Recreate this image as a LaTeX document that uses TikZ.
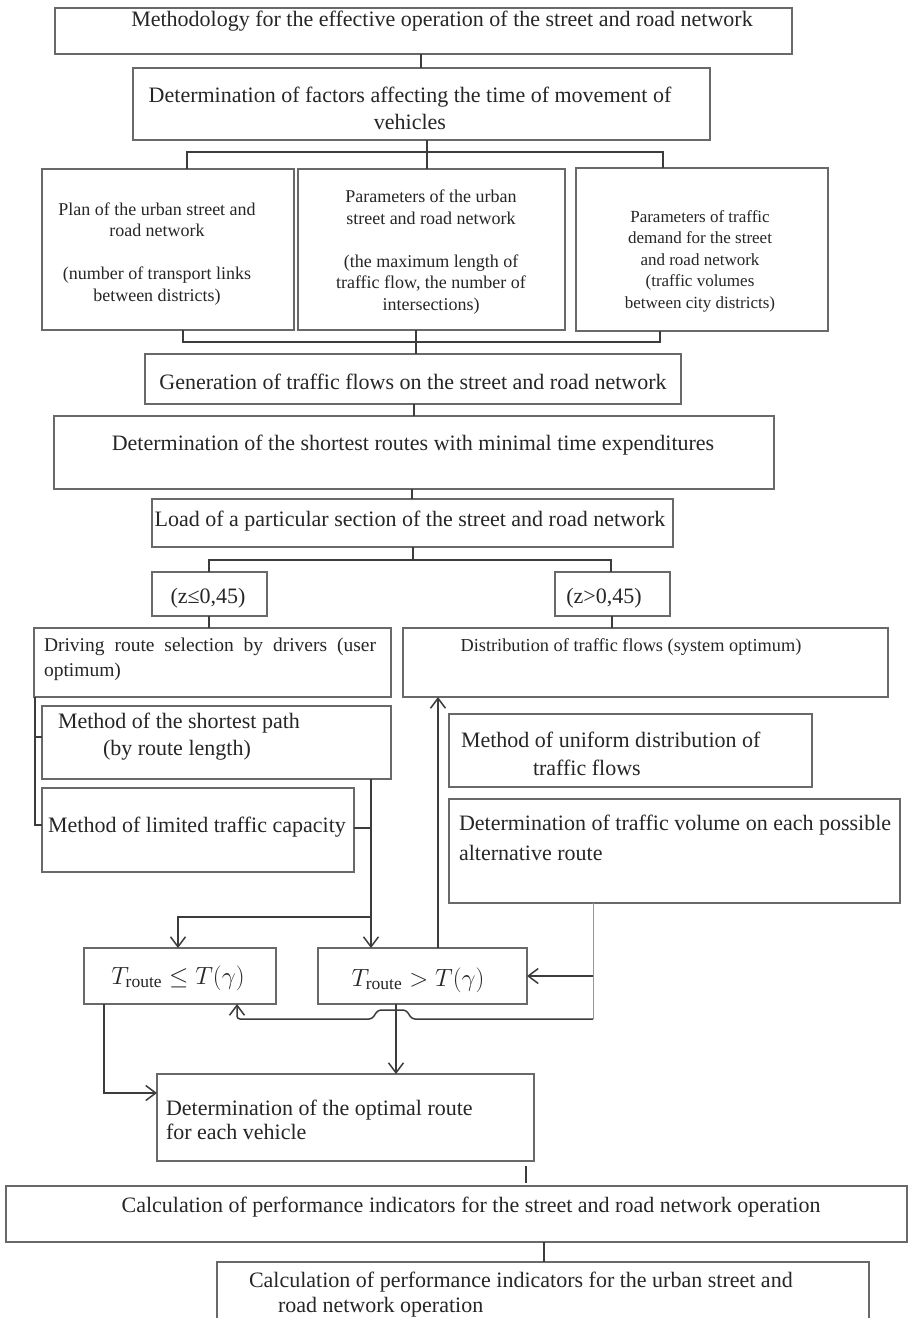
\documentclass[tikz,border=0pt]{standalone}
\usepackage{fontspec}
\setmainfont{Liberation Serif}
\usetikzlibrary{arrows.meta,calc}
\definecolor{boxline}{RGB}{105,105,105}
\definecolor{wire}{RGB}{60,60,60}
\definecolor{faint}{RGB}{150,150,150}
\tikzset{
  box/.style={draw=boxline, line width=1.3pt, inner sep=0pt, outer sep=0pt, anchor=north west},
  lbl/.style={inner sep=0pt, outer sep=0pt, text=black!85, font=\fontsize{22}{27}\selectfont},
  small/.style={lbl, font=\fontsize{18}{21.5}\selectfont},
  link/.style={draw=wire, line width=1.5pt},
  thinlink/.style={draw=faint, line width=1pt},
  arr/.style={link, -{Straight Barb[length=10pt,width=15pt,line width=1.5pt]}},
}
\begin{document}
\begin{tikzpicture}[x=1pt,y=-1pt]
\useasboundingbox (0,0) rectangle (908,1318);
\clip (0,0) rectangle (908,1318);
\fill[white] (0,0) rectangle (908,1318);

% ---- boxes (top-left corner, width, height)
\node[box, minimum width=737pt, minimum height=46pt]  (top)  at (55,8)    {};
\node[box, minimum width=577pt, minimum height=72pt]  (fac)  at (133,68)  {};
\node[box, minimum width=252pt, minimum height=161pt] (pa)   at (42,169)  {};
\node[box, minimum width=267pt, minimum height=161pt] (pb)   at (298,169) {};
\node[box, minimum width=252pt, minimum height=163pt] (pc)   at (576,168) {};
\node[box, minimum width=536pt, minimum height=50pt]  (gen)  at (145,354) {};
\node[box, minimum width=720pt, minimum height=73pt]  (sr)   at (54,416)  {};
\node[box, minimum width=521pt, minimum height=48pt]  (load) at (152,499) {};
\node[box, minimum width=115pt, minimum height=44pt]  (zl)   at (152,572) {};
\node[box, minimum width=115pt, minimum height=44pt]  (zg)   at (555,572) {};
\node[box, minimum width=357pt, minimum height=69pt]  (drv)  at (34,628)  {};
\node[box, minimum width=485pt, minimum height=69pt]  (dist) at (403,628) {};
\node[box, minimum width=349pt, minimum height=73pt]  (msp)  at (42,706)  {};
\node[box, minimum width=312pt, minimum height=84pt]  (mlc)  at (42,788)  {};
\node[box, minimum width=363pt, minimum height=73pt]  (mud)  at (449,714) {};
\node[box, minimum width=451pt, minimum height=104pt] (dtv)  at (449,799) {};
\node[box, minimum width=192pt, minimum height=56pt]  (tle)  at (84,948)  {};
\node[box, minimum width=209pt, minimum height=56pt]  (tgt)  at (318,948) {};
\node[box, minimum width=377pt, minimum height=87pt]  (opt)  at (157,1074) {};
\node[box, minimum width=901pt, minimum height=56pt]  (c1)   at (6,1186)  {};
\node[box, minimum width=652pt, minimum height=90pt]  (c2)   at (217,1262) {};

% ---- texts
\node[lbl] (ttop) at (442,21) {Methodology for the effective operation of the street and road network};
\node[lbl, align=center] (tfac) at (410,108.5) {Determination of factors affecting the time of movement of\\vehicles};
\node[small, align=center] (tpa) at (157,254) {Plan of the urban street and\\road network\\[21.5pt](number of transport links\\between districts)};
\node[small, align=center] (tpb) at (431,252) {Parameters of the urban\\street and road network\\[21.5pt](the maximum length of\\traffic flow, the number of\\intersections)};
\node[small, font=\fontsize{17}{21.5}\selectfont, align=center] (tpc) at (700,261) {Parameters of traffic\\demand for the street\\and road network\\(traffic volumes\\between city districts)};
\node[lbl] (tgen) at (413,382) {Generation of traffic flows on the street and road network};
\node[lbl] (tsr) at (413,445) {Determination of the shortest routes with minimal time expenditures};
\node[lbl] (tload) at (410,521) {Load of a particular section of the street and road network};
\node[lbl] (tzl) at (208,598) {(z≤0,45)};
\node[lbl] (tzg) at (604,598) {(z>0,45)};
\node[lbl, font=\fontsize{19.5}{25}\selectfont, align=left, anchor=west] (tdrv) at (44,659.5)
  {\makebox[332pt][s]{Driving route selection by drivers (user}\\optimum)};
\node[small, font=\fontsize{18.3}{22}\selectfont] (tdist) at (631,647) {Distribution of traffic flows (system optimum)};
\node[lbl, align=left, anchor=west] (tmsp) at (58,736.5) {Method of the shortest path\\\hspace*{45pt}(by route length)};
\node[lbl] (tmlc) at (197,827) {Method of limited traffic capacity};
\node[lbl, font=\fontsize{22}{28}\selectfont, align=left, anchor=west] (tmud) at (461,754) {Method of uniform distribution of\\\hspace*{72pt}traffic flows};
\node[lbl, font=\fontsize{22}{30}\selectfont, align=left, anchor=west] (tdtv) at (459,838) {Determination of traffic volume on each possible\\alternative route};
\node[lbl, font=\fontsize{25}{28}\selectfont] (ttle) at (178,978) {$T_{\mathrm{route}} \le T(\gamma)$};
\node[lbl, font=\fontsize{25}{28}\selectfont] (ttgt) at (418,980) {$T_{\mathrm{route}} > T(\gamma)$};
\node[lbl, font=\fontsize{22}{24}\selectfont, align=left, anchor=west] (topt) at (166,1120) {Determination of the optimal route\\for each vehicle};
\node[lbl] (tc1) at (471,1207) {Calculation of performance indicators for the street and road network operation};
\node[lbl, font=\fontsize{22}{25}\selectfont, align=left, anchor=west] (tc2) at (249,1294.5) {Calculation of performance indicators for the urban street and\\\hspace*{29pt}road network operation};

% ---- bus lines
\coordinate (busA) at (0,152);
\coordinate (busB) at (0,342);
\coordinate (busC) at (0,560);
\coordinate (hook) at (371,917);
\coordinate (side) at (593,976);
\coordinate (loop) at (593,1019);

% ---- connectors, upper part
\draw[link] (421,0 |- top.south) -- (421,0 |- fac.north);
\draw[link] (427,0 |- fac.south) -- (427,0 |- busA);
\draw[link] (187,0 |- pa.north) |- (663,0 |- busA) -- (663,0 |- pc.north);
\draw[link] (427,0 |- busA) -- (427,0 |- pb.north);
\draw[link] (183,0 |- pa.south) |- (660,0 |- busB) -- (660,0 |- pc.south);
\draw[link] (416,0 |- pb.south) -- (416,0 |- gen.north);
\draw[link] (414,0 |- gen.south) -- (414,0 |- sr.north);
\draw[link] (412,0 |- sr.south) -- (412,0 |- load.north);
\draw[link] (413,0 |- load.south) -- (413,0 |- busC);
\draw[link] (209,0 |- zl.north) |- (611,0 |- busC) -- (611,0 |- zg.north);
\draw[link] (209,0 |- zl.south) -- (209,0 |- drv.north);
\draw[link] (612,0 |- zg.south) -- (612,0 |- dist.north);

% ---- left column
\draw[link] (35,0 |- drv.south) |- (mlc.west |- 0,825);
\draw[link] (35,737) -- (msp.west |- 0,737);
\draw[arr] (371,0 |- msp.south) -- (371,0 |- tgt.north);
\draw[link] (mlc.east |- 0,828) -- (371,828);
\draw[arr] (hook) -| (178,0 |- tle.north);

% ---- right column and feedback
\draw[arr] (438,0 |- tgt.north) -- (438,0 |- dist.south);
\draw[thinlink] (593,0 |- dtv.south) -- (loop);
\draw[arr] (side) -- (tgt.east |- side);
\draw[arr, rounded corners=3pt] (loop) -- (412,1019) -- (406,1010) -- (378,1010) -- (372,1019) -- (237,1019) -- (237,0 |- tle.south);

% ---- towards the result
\draw[arr] (396,0 |- tgt.south) -- (396,0 |- opt.north);
\draw[arr] (104,0 |- tle.south) |- (opt.west |- 0,1093);
\draw[link, shorten <=5pt, shorten >=3pt] (526,0 |- opt.south) -- (526,0 |- c1.north);
\draw[link] (544,0 |- c1.south) -- (544,0 |- c2.north);
\end{tikzpicture}
\end{document}
